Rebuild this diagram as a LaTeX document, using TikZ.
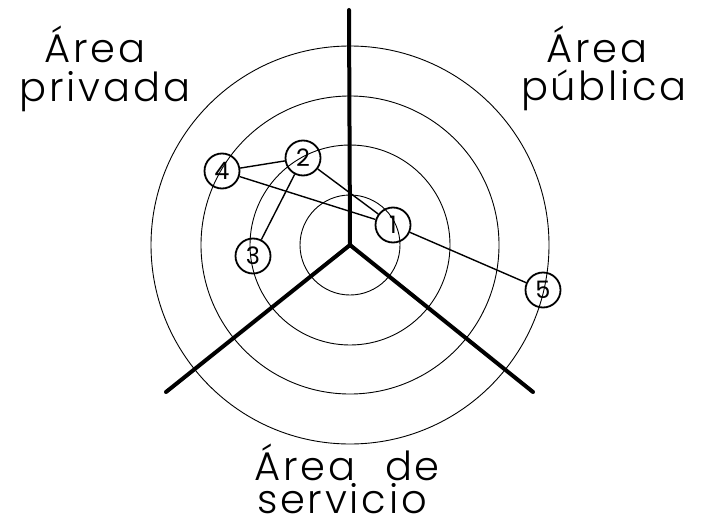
\documentclass[tikz,border=0pt]{standalone}
\usepackage{fontspec}
\setmainfont{Poppins}[UprightFont=* Light]
\newfontfamily\digitfont{Poppins}
\begin{document}
\begin{tikzpicture}[x=1pt,y=-1pt,
  ring/.style={draw,line width=0.9pt},
  axis/.style={draw,line width=4pt,line cap=round},
  num/.style={circle,draw,line width=1.8pt,minimum size=35pt,inner sep=0pt,font=\digitfont\fontsize{24}{24}\selectfont},
  link/.style={line width=1.4pt},
  lbl/.style={anchor=base,inner sep=0pt,font=\fontsize{40}{40}\selectfont\addfontfeatures{LetterSpace=7}}]
\useasboundingbox (0,0) rectangle (703,524);
\coordinate (c) at (350,245);
\coordinate (top) at (349,10);
\coordinate (bl) at (166,392);
\coordinate (br) at (533,392);
\foreach \r in {50,100,149,199} \draw[ring] (c) circle[radius=\r];
\draw[axis] (c) -- (top);
\draw[axis] (c) -- (bl);
\draw[axis] (c) -- (br);
\node[num] (n1) at (393,225) {1};
\node[num] (n2) at (303,158) {2};
\node[num] (n3) at (253,256) {3};
\node[num] (n4) at (222,171) {4};
\node[num] (n5) at (543,290) {5};
\draw[link] (n4) -- (n2);
\draw[link] (n4) -- (n1);
\draw[link] (n2) -- (n1);
\draw[link] (n2) -- (n3);
\draw[link] (n1) -- (n5);
\node[lbl] (pa) at (95,63) {Área};
\node[lbl] (pb) at (105,102) {privada};
\node[lbl] (ua) at (597,63) {Área};
\node[lbl] (ub) at (604,101) {pública};
\node[lbl] (sa) at (347,480) {Área\hspace{30pt}de};
\node[lbl] (sb) at (342,513) {servicio};
\end{tikzpicture}
\end{document}
